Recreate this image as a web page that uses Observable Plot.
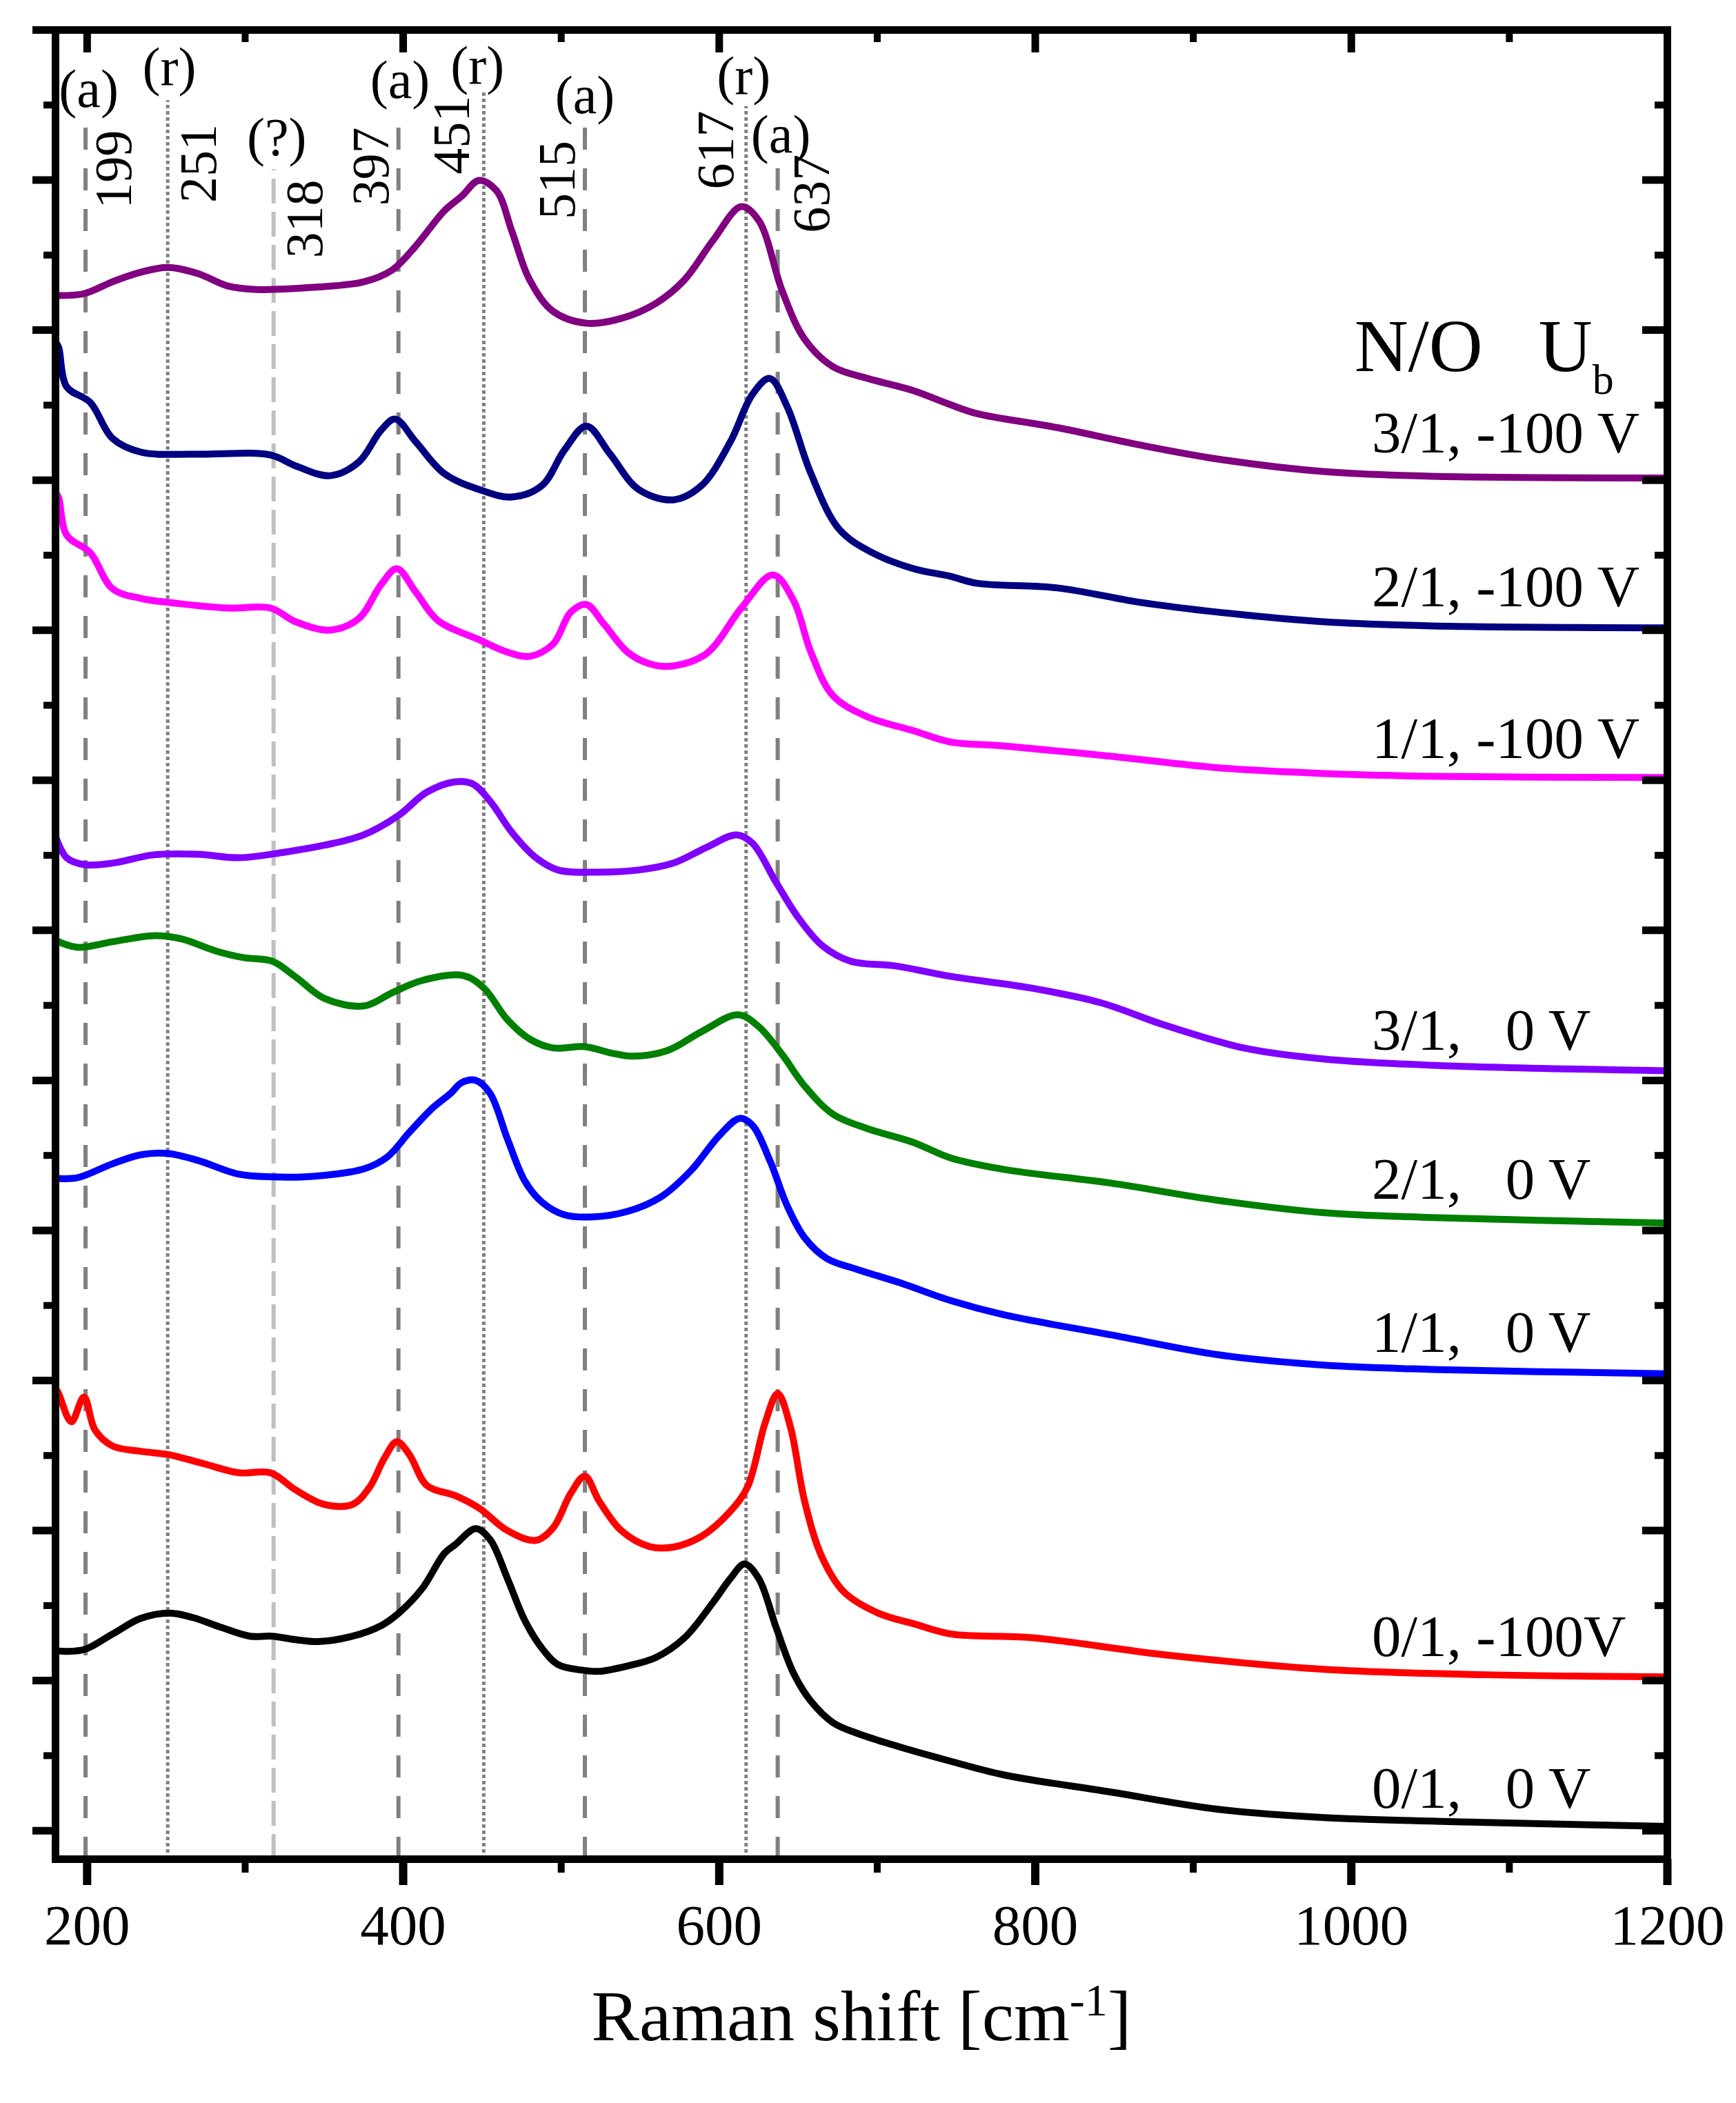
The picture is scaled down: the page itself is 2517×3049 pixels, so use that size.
<!DOCTYPE html>
<html>
<head>
<meta charset="utf-8">
<script src="https://cdn.jsdelivr.net/npm/d3@7"></script>
<script src="https://cdn.jsdelivr.net/npm/@observablehq/plot@0.6"></script>
<style>
  body { margin: 0; background: #fff; }
</style>
</head>
<body>
<div id="chart"></div>
<script>
// Raman spectra, stacked with an offset (arbitrary units). Points are [shift cm-1, intensity].
const s01_0V = [[180,1.20],[187,1.195],[199,1.21],[216,1.31],[234,1.415],[252,1.45],[267,1.42],[285,1.354],[303,1.296],[317,1.296],[332,1.273],[346,1.26],[368,1.296],[386,1.366],[397,1.448],[412,1.613],[426,1.847],[433,1.907],[446,2.013],[455,1.94],[466,1.68],[477,1.40],[488,1.213],[498,1.107],[513,1.07],[524,1.062],[542,1.098],[560,1.155],[578,1.285],[596,1.52],[607,1.68],[616,1.777],[625,1.68],[636,1.354],[647,1.05],[658,0.863],[672,0.72],[687,0.65],[715,0.556],[746,0.464],[780,0.372],[848,0.257],[916,0.142],[983,0.087],[1085,0.055],[1200,0.028]];
const s01_100V = [[180,2.95],[182,2.913],[190,2.725],[198,2.89],[205,2.67],[216,2.564],[234,2.528],[252,2.505],[274,2.445],[296,2.385],[316,2.385],[332,2.27],[350,2.174],[368,2.174],[379,2.293],[388,2.48],[396,2.592],[404,2.505],[415,2.30],[433,2.233],[448,2.15],[466,2.0],[484,1.935],[495,2.02],[506,2.247],[515,2.362],[524,2.197],[538,2.0],[556,1.893],[571,1.89],[589,1.963],[607,2.128],[618,2.293],[629,2.716],[637,2.913],[645,2.693],[654,2.197],[665,1.824],[679,1.59],[701,1.448],[723,1.379],[747,1.31],[797,1.287],[882,1.172],[983,1.075],[1085,1.039],[1200,1.025]];
const s11_0V = [[180,4.347],[194,4.352],[216,4.444],[234,4.504],[251,4.513],[270,4.467],[296,4.375],[317,4.357],[343,4.361],[375,4.41],[390,4.49],[404,4.655],[419,4.82],[430,4.913],[437,4.985],[446,5.0],[455,4.913],[466,4.609],[477,4.329],[488,4.187],[502,4.104],[520,4.09],[542,4.127],[563,4.223],[582,4.398],[600,4.632],[613,4.747],[621,4.701],[632,4.467],[643,4.164],[654,3.952],[668,3.814],[687,3.741],[715,3.649],[746,3.534],[780,3.438],[848,3.304],[916,3.171],[983,3.102],[1051,3.074],[1200,3.045]];
const s21_0V = [[180,5.933],[194,5.887],[216,5.924],[243,5.965],[260,5.942],[281,5.864],[299,5.818],[317,5.795],[332,5.689],[350,5.547],[375,5.496],[393,5.584],[412,5.666],[438,5.699],[451,5.616],[466,5.404],[480,5.276],[495,5.216],[515,5.225],[531,5.184],[545,5.161],[567,5.198],[589,5.326],[612,5.437],[625,5.358],[640,5.17],[654,4.963],[672,4.775],[694,4.678],[723,4.586],[746,4.485],[780,4.407],[848,4.315],[916,4.2],[983,4.118],[1051,4.086],[1200,4.049]];
const s31_0V = [[180,6.627],[187,6.484],[198,6.438],[216,6.448],[242,6.503],[270,6.507],[296,6.484],[325,6.521],[350,6.567],[375,6.636],[397,6.765],[415,6.921],[433,6.99],[444,6.976],[455,6.861],[469,6.65],[484,6.484],[498,6.402],[524,6.388],[549,6.402],[571,6.448],[592,6.553],[611,6.636],[621,6.581],[636,6.319],[650,6.085],[665,5.9],[683,5.795],[712,5.762],[746,5.694],[797,5.616],[841,5.519],[882,5.368],[932,5.216],[983,5.142],[1051,5.101],[1200,5.064]];
const s11_100V = [[180,8.92],[182,8.883],[187,8.635],[202,8.516],[216,8.277],[234,8.212],[252,8.185],[289,8.148],[316,8.148],[332,8.056],[354,8.001],[372,8.079],[386,8.304],[396,8.41],[408,8.254],[422,8.065],[448,7.937],[466,7.854],[480,7.826],[495,7.909],[506,8.12],[516,8.171],[527,8.042],[542,7.854],[556,7.776],[571,7.762],[592,7.845],[614,8.148],[634,8.369],[647,8.199],[658,7.854],[672,7.564],[694,7.422],[723,7.33],[746,7.256],[780,7.229],[848,7.16],[916,7.083],[983,7.045],[1051,7.027],[1200,7.018]];
const s21_100V = [[180,9.92],[182,9.885],[187,9.623],[202,9.518],[216,9.279],[234,9.187],[270,9.173],[316,9.168],[332,9.095],[354,9.03],[372,9.122],[386,9.333],[395,9.407],[408,9.255],[426,9.044],[448,8.938],[469,8.888],[488,8.966],[502,9.2],[516,9.361],[531,9.173],[549,8.938],[571,8.869],[589,8.966],[607,9.255],[621,9.572],[632,9.678],[643,9.49],[658,9.044],[676,8.672],[697,8.516],[723,8.41],[746,8.36],[763,8.313],[814,8.282],[865,8.188],[916,8.12],[983,8.056],[1051,8.029],[1200,8.016]];
const s31_100V = [[180,10.23],[198,10.243],[216,10.322],[234,10.386],[251,10.418],[270,10.377],[289,10.294],[307,10.271],[343,10.285],[375,10.322],[393,10.4],[408,10.561],[426,10.795],[437,10.892],[448,10.998],[459,10.93],[469,10.652],[480,10.335],[495,10.124],[516,10.046],[538,10.078],[560,10.179],[578,10.335],[596,10.597],[614,10.823],[625,10.731],[640,10.257],[654,9.94],[672,9.756],[694,9.678],[723,9.596],[746,9.504],[763,9.444],[814,9.35],[865,9.237],[916,9.14],[983,9.057],[1051,9.026],[1200,9.015]];

const nbsp3 = "\u00a0\u00a0\u00a0";
const seriesNames = [`0/1,${nbsp3}0 V`, "0/1, -100V", `1/1,${nbsp3}0 V`, `2/1,${nbsp3}0 V`, `3/1,${nbsp3}0 V`, "1/1, -100 V", "2/1, -100 V", "3/1, -100 V"];
const seriesData = [s01_0V, s01_100V, s11_0V, s21_0V, s31_0V, s11_100V, s21_100V, s31_100V];
const seriesColors = ["#000000", "#ff0000", "#0000ff", "#008000", "#8000ff", "#ff00ff", "#000080", "#800080"];
const labelY = [0.276, 1.287, 3.318, 4.334, 5.331, 7.275, 8.283, 9.31];

// assigned bands: (a) anatase, (r) rutile, (?) unknown
const bandShift = [199, 251, 318, 397, 451, 515, 617, 637];
const bandMode = ["(a)", "(r)", "(?)", "(a)", "(r)", "(a)", "(r)", "(a)"];
const bandTop = [11.42, 11.53, 11.07, 11.47, 11.60, 11.37, 11.49, 11.14];
const modeX = [201, 252, 320, 398, 447, 515, 615.5, 639];
const modeY = [11.60, 11.75, 11.28, 11.66, 11.76, 11.56, 11.69, 11.30];
const numX = [217, 271, 338, 380, 431, 498, 598, 659];
const numY = [11.07, 11.11, 10.74, 11.09, 11.30, 11.0, 11.2, 10.91];

const xMajor = [200, 400, 600, 800, 1000, 1200];
const xMinor = [300, 500, 700, 900, 1100];
const yMajor = d3.range(0, 13);
const yMinor = d3.range(0.5, 12, 1);

const yMin = -0.19;
const rows = seriesData.flatMap((pts, i) =>
  pts.map(([shift, value]) => ({shift, value, series: seriesNames[i]}))
);
const bands = bandShift.map((shift, i) => ({
  shift, mode: bandMode[i], top: bandTop[i],
  mx: modeX[i], my: modeY[i], nx: numX[i], ny: numY[i]
}));
const labels = seriesNames.map((name, i) => ({name, y: labelY[i]}));

const noText = () => "";
const xLabel = "Raman shift [cm";
const legendHead = `N/O${nbsp3}U`;

const chart = Plot.plot({
  width: 2517,
  height: 3049,
  marginLeft: 80,
  marginRight: 100,
  marginTop: 43,
  marginBottom: 354,
  style: {fontFamily: "'Liberation Serif', 'Times New Roman', serif", background: "white", color: "black"},
  x: {domain: [180, 1200]},
  y: {domain: [yMin, 12]},
  color: {domain: seriesNames, range: seriesColors},
  marks: [
    Plot.ruleX(bands.filter((d) => d.mode === "(a)"), {x: "shift", y1: yMin, y2: "top", stroke: "#808080", strokeWidth: 6, strokeDasharray: "32,27"}),
    Plot.ruleX(bands.filter((d) => d.mode === "(r)"), {x: "shift", y1: yMin, y2: "top", stroke: "#808080", strokeWidth: 5, strokeDasharray: "5,4"}),
    Plot.ruleX(bands.filter((d) => d.mode === "(?)"), {x: "shift", y1: yMin, y2: "top", stroke: "#c0c0c0", strokeWidth: 6, strokeDasharray: "36,12"}),
    Plot.line(rows, {x: "shift", y: "value", z: "series", stroke: "series", strokeWidth: 10, curve: "catmull-rom"}),
    Plot.text(bands, {x: "mx", y: "my", text: "mode", fontSize: 78}),
    Plot.text(bands, {x: "nx", y: "ny", text: (d) => String(d.shift), rotate: -90, fontSize: 76}),
    Plot.text(labels, {x: () => 1013, y: "y", text: "name", textAnchor: "start", fontSize: 85}),
    Plot.text([legendHead], {x: () => 1002, y: () => 9.887, text: (d) => d, textAnchor: "start", fontSize: 108}),
    Plot.text([xLabel], {frameAnchor: "bottom", dy: 262, text: (d) => d, fontSize: 104}),
    Plot.axisX(xMajor, {anchor: "bottom", tickSize: 38, strokeWidth: 12, tickPadding: 27, fontSize: 83, tickFormat: (d) => String(d), label: null}),
    Plot.axisX(xMinor, {anchor: "bottom", tickSize: 20, strokeWidth: 10, tickFormat: noText, label: null}),
    Plot.axisX(xMajor, {anchor: "top", tickSize: -32, strokeWidth: 11, tickFormat: noText, label: null}),
    Plot.axisX(xMinor, {anchor: "top", tickSize: -17, strokeWidth: 10, tickFormat: noText, label: null}),
    Plot.axisY(yMajor, {anchor: "left", tickSize: 33, strokeWidth: 11, tickFormat: noText, label: null}),
    Plot.axisY(yMinor, {anchor: "left", tickSize: 17, strokeWidth: 10, tickFormat: noText, label: null}),
    Plot.axisY(yMajor, {anchor: "right", tickSize: -37, strokeWidth: 11, tickFormat: noText, label: null}),
    Plot.axisY(yMinor, {anchor: "right", tickSize: -19, strokeWidth: 10, tickFormat: noText, label: null}),
    Plot.frame({stroke: "black", strokeWidth: 11})
  ]
});

// superscript / subscript parts of the two composite labels
const byText = (s) => d3.select(chart).selectAll("text").filter(function () { return this.textContent === s; });
const xl = byText(xLabel);
xl.append("tspan").attr("font-size", 66).attr("dy", -36).text("-1");
xl.append("tspan").attr("font-size", 104).attr("dy", 36).text("]");

const lh = byText(legendHead);
lh.append("tspan").attr("font-size", 62).attr("dy", 33).text("b");

document.getElementById("chart").appendChild(chart);
</script>
</body>
</html>
